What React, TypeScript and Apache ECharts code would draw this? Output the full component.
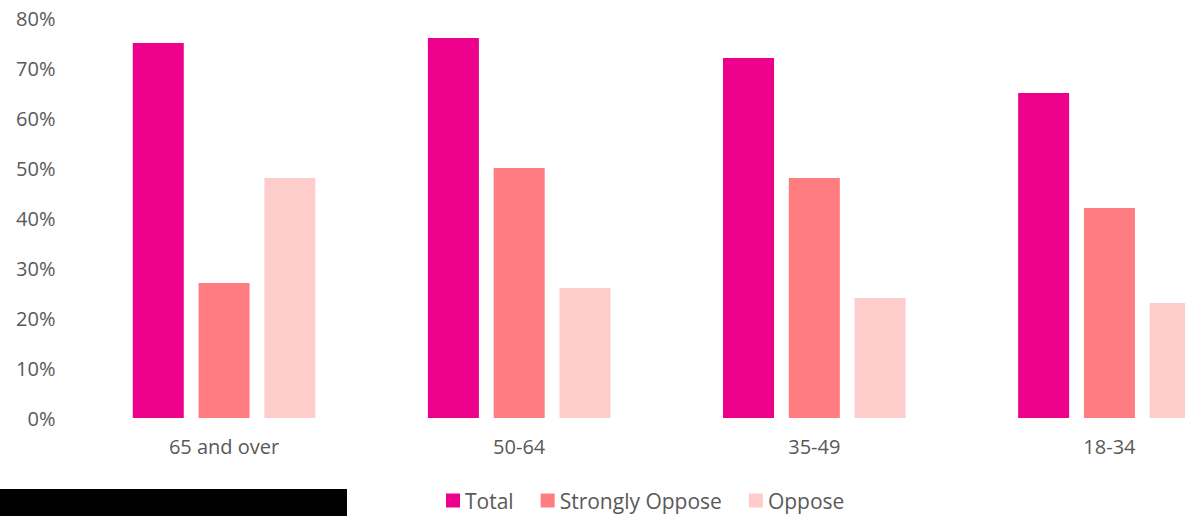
import React, { useEffect, useRef } from "react";
import * as echarts from "echarts";

const categories = ["65 and over", "50-64", "35-49", "18-34"];
const totalValues = [75, 76, 72, 65];
const stronglyOpposeValues = [27, 50, 48, 42];
const opposeValues = [48, 26, 24, 23];
const yTicks = [0, 10, 20, 30, 40, 50, 60, 70, 80];

const FONT = "'Open Sans', 'Noto Sans', sans-serif";
const TEXT = "#595959";

export default function App() {
  const ref = useRef<HTMLDivElement>(null);
  useEffect(() => {
    if (!ref.current) return;
    const chart = echarts.init(ref.current, null, { renderer: "svg" });
    const mk = (name: string, data: number[], color: string) => ({
      name,
      type: "bar",
      data,
      barWidth: 51,
      barGap: "29%",
      itemStyle: { color },
    });
    chart.setOption({
      animation: false,
      textStyle: { fontFamily: FONT },
      grid: { left: 76.5, right: 0, top: 18, bottom: 98, containLabel: false },
      legend: {
        data: ["Total", "Strongly Oppose", "Oppose"],
        left: 441,
        top: 485,
        itemWidth: 14,
        itemHeight: 14,
        itemGap: 27,
        icon: "rect",
        textStyle: { fontSize: 21, color: TEXT, fontFamily: FONT },
      },
      xAxis: {
        type: "category",
        data: categories,
        axisLine: { show: false },
        axisTick: { show: false },
        axisLabel: { fontSize: 20, color: TEXT, margin: 18, fontFamily: FONT },
      },
      yAxis: {
        type: "value",
        min: yTicks[0],
        max: yTicks[yTicks.length - 1],
        interval: 10,
        splitLine: { show: false },
        axisLine: { show: false },
        axisTick: { show: false },
        axisLabel: {
          fontSize: 20,
          color: TEXT,
          margin: 21,
          fontFamily: FONT,
          formatter: (v: number) => `${v}%`,
        },
      },
      graphic: [
        {
          type: "rect",
          left: 0,
          top: 489,
          shape: { width: 347, height: 27 },
          style: { fill: "#000" },
        },
      ],
      series: [
        mk("Total", totalValues, "#EC008C"),
        mk("Strongly Oppose", stronglyOpposeValues, "#FF7C80"),
        mk("Oppose", opposeValues, "#FFCCCC"),
      ],
    });
    return () => chart.dispose();
  }, []);
  return (
    <div
      style={{
        position: "fixed",
        left: 0,
        top: 0,
        width: 1185,
        height: 516,
        overflow: "hidden",
        background: "#fff",
      }}
    >
      <div ref={ref} style={{ width: 1257, height: 516 }} />
    </div>
  );
}
